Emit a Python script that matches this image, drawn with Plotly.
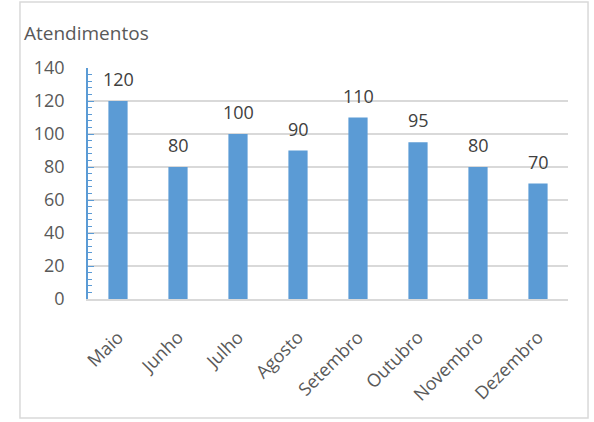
import plotly.graph_objects as go

# Monthly attendance counts
meses = ["Maio", "Junho", "Julho", "Agosto", "Setembro", "Outubro", "Novembro", "Dezembro"]
atendimentos = [120, 80, 100, 90, 110, 95, 80, 70]
y_ticks = [0, 20, 40, 60, 80, 100, 120, 140]

FONT = "Open Sans"
BAR_COLOR = "#5B9BD5"
GRID_COLOR = "#D9D9D9"
TEXT_COLOR = "#595959"

fig = go.Figure()

fig.add_trace(
    go.Bar(
        x=meses,
        y=atendimentos,
        marker=dict(color=BAR_COLOR, line=dict(width=0)),
        width=0.32,
        hoverinfo="x+y",
    )
)

# Data labels above each bar
for mes, valor in zip(meses, atendimentos):
    fig.add_annotation(
        x=mes, y=valor,
        text=str(valor),
        showarrow=False,
        yanchor="bottom",
        yshift=8,
        font=dict(family=FONT, size=18, color="#404040"),
    )

# Update layout
fig.update_layout(
    width=594,
    height=422,
    margin=dict(l=88, r=26, t=68, b=123),
    paper_bgcolor="white",
    plot_bgcolor="white",
    showlegend=False,
    font=dict(family=FONT, color=TEXT_COLOR),
    xaxis=dict(
        showgrid=False,
        showline=True,
        linecolor=GRID_COLOR,
        linewidth=1.5,
        tickangle=-45,
        tickfont=dict(family=FONT, size=18, color=TEXT_COLOR),
        ticks="",
        ticklabelstandoff=19,
    ),
    yaxis=dict(
        range=[0, 140],
        tickvals=y_ticks,
        showgrid=True,
        gridcolor=GRID_COLOR,
        gridwidth=1.5,
        zeroline=False,
        showline=True,
        linecolor=BAR_COLOR,
        linewidth=1.5,
        ticks="inside",
        ticklen=6,
        tickcolor=BAR_COLOR,
        minor=dict(dtick=4, ticks="inside", ticklen=4, tickcolor=BAR_COLOR, showgrid=False),
        tickfont=dict(family=FONT, size=18, color=TEXT_COLOR),
        ticklabelstandoff=18,
    ),
)

# Chart title in the top-left corner
fig.add_annotation(
    text="Atendimentos",
    xref="paper", yref="paper",
    x=-0.138, y=1.152,
    xanchor="left", yanchor="middle",
    showarrow=False,
    font=dict(family=FONT, size=19, color=TEXT_COLOR),
)

# Light grey frame around the chart area
fig.add_shape(
    type="rect",
    xref="paper", yref="paper",
    x0=-0.1417, x1=1.0417, y0=-0.515, y1=1.286,
    line=dict(color=GRID_COLOR, width=1.5),
    fillcolor="rgba(0,0,0,0)",
)

# drop the default 8px body margin so the figure fills the window exactly
fig.write_html(
    "out.html",
    config={"displayModeBar": False},
    post_script="document.body.style.margin='0';",
)
